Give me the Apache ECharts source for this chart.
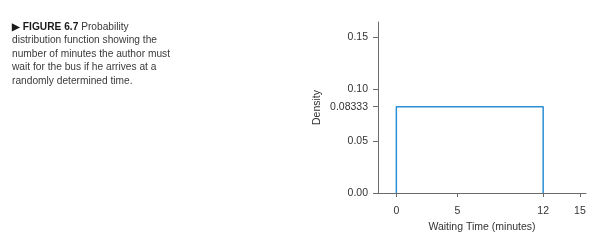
<!DOCTYPE html>
<html>
<head>
<meta charset="utf-8">
<script src="https://cdn.jsdelivr.net/npm/echarts@6/dist/echarts.min.js"></script>
<style>
html,body{margin:0;padding:0;background:#fff;}
#c{width:602px;height:241px;}
</style>
</head>
<body>
<div id="c"></div>
<script>
// Data
const xValues = [0, 0, 12, 12];
const yValues = [0, 0.08333, 0.08333, 0];
const xTickValues = [0, 5, 12, 15];
const xTickLabels = ['0', '5', '12', '15'];
const yTickValues = [0, 0.05, 0.08333, 0.10, 0.15];
const yTickLabels = ['0.00', '0.05', '0.08333', '0.10', '0.15'];
const captionLines = [
  'distribution function showing the',
  'number of minutes the author must',
  'wait for the bus if he arrives at a',
  'randomly determined time.'
];

const chart = echarts.init(document.getElementById('c'), null, {renderer: 'canvas'});
const fontFamily = '"Liberation Sans", Arial, Helvetica, sans-serif';
const axisColor = '#6b6b6b';
const textColor = '#333333';

function labelFor(values, labels) {
  return function (v) {
    for (let i = 0; i < values.length; i++) {
      if (Math.abs(values[i] - v) < 1e-6) return labels[i];
    }
    return '';
  };
}

const captionText = '{b|▶ FIGURE 6.7} {n|Probability}\n' +
  captionLines.map(l => '{n|' + l + '}').join('\n');

chart.setOption({
  animation: false,
  backgroundColor: '#ffffff',
  title: {
    left: 12,
    top: 20,
    padding: 0,
    text: captionText,
    textStyle: {
      fontFamily: fontFamily,
      fontSize: 10.2,
      fontWeight: 'normal',
      lineHeight: 13.5,
      color: textColor,
      rich: {
        b: {fontFamily: fontFamily, fontSize: 10.2, fontWeight: 'bold', color: '#1a1a1a', lineHeight: 13.5},
        n: {fontFamily: fontFamily, fontSize: 10.2, color: '#3a3a3a', lineHeight: 13.5}
      }
    }
  },
  grid: {left: 378, right: 16, top: 22, bottom: 48, containLabel: false},
  xAxis: {
    type: 'value',
    min: -1.5,
    max: 15.5,
    splitLine: {show: false},
    axisLine: {show: true, onZero: false, lineStyle: {color: axisColor, width: 1}},
    axisTick: {show: true, length: 4, customValues: xTickValues, lineStyle: {color: axisColor}},
    axisLabel: {
      customValues: xTickValues,
      formatter: labelFor(xTickValues, xTickLabels),
      margin: 13,
      fontFamily: fontFamily,
      fontSize: 10.5,
      color: textColor
    },
    name: 'Waiting Time (minutes)',
    nameLocation: 'middle',
    nameGap: 28,
    nameTextStyle: {fontFamily: fontFamily, fontSize: 10.5, color: textColor}
  },
  yAxis: {
    type: 'value',
    min: 0,
    max: 0.165,
    splitLine: {show: false},
    axisLine: {show: true, onZero: false, lineStyle: {color: axisColor, width: 1}},
    axisTick: {show: true, length: 5, customValues: yTickValues, lineStyle: {color: axisColor}},
    axisLabel: {
      customValues: yTickValues,
      formatter: labelFor(yTickValues, yTickLabels),
      margin: 10,
      fontFamily: fontFamily,
      fontSize: 10.5,
      color: textColor
    },
    name: 'Density',
    nameLocation: 'middle',
    nameGap: 55,
    nameRotate: 90,
    nameTextStyle: {fontFamily: fontFamily, fontSize: 10.5, color: textColor}
  },
  series: [{
    type: 'line',
    data: xValues.map((x, i) => [x, yValues[i]]),
    showSymbol: false,
    lineStyle: {color: '#2a8fd4', width: 1.5},
    itemStyle: {color: '#2a8fd4'},
    clip: false
  }]
});
</script>
</body>
</html>
